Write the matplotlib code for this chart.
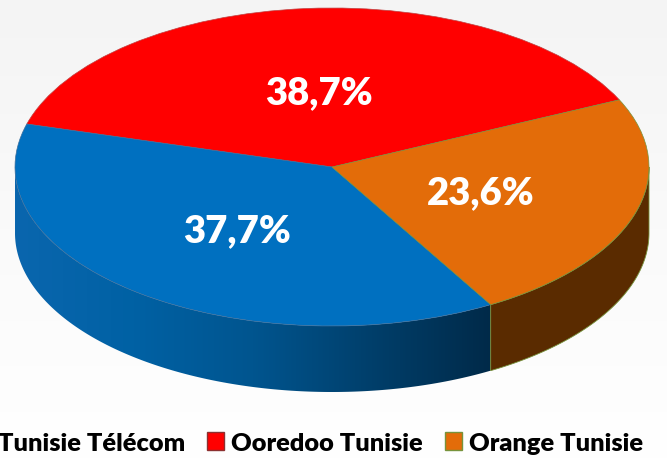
import numpy as np
import matplotlib
matplotlib.use("Agg")
import matplotlib.pyplot as plt
from matplotlib.colors import LinearSegmentedColormap
from matplotlib.patches import Patch, Polygon

operators = ["Tunisie Télécom", "Ooredoo Tunisie", "Orange Tunisie"]
shares = [37.7, 38.7, 23.6]
colors = ["#0070c0", "#ff0000", "#e36c09"]
edge_colors = ["#3c6e9c", "#c04040", "#77933c"]
legend_edges = ["#2a5a8c", "#8c3030", "#77933c"]
label_x = [-0.30, -0.04, 0.47]
label_y = [-0.40, 0.47, -0.157]

# ellipse of the top face in pixels
cx, cy, rx, ry = 332, 168, 317, 159
depth = 66 / ry
red_start = 25.0

plt.rcParams["font.family"] = ["Lato", "DejaVu Sans"]
plt.rcParams["font.weight"] = 800

fig = plt.figure(figsize=(6.67, 4.60), dpi=100)
ax = fig.add_axes([0, 0, 1, 1])
ax.axis("off")
xlim = (-cx / rx, (667 - cx) / rx)
ylim = ((cy - 460) / ry, cy / ry)

# faint grey backdrop, fading out to the bottom
bg = LinearSegmentedColormap.from_list("bg", ["#f4f4f4", "#fafafa", "#ffffff"])
ax.imshow(np.linspace(0, 1, 256).reshape(-1, 1), cmap=bg, aspect="auto",
          extent=(xlim[0], xlim[1], ylim[0], ylim[1]), origin="upper", zorder=0)

# pie order is red, blue, orange counter clockwise from red_start
order = [1, 0, 2]
wedges, _ = ax.pie([shares[i] for i in order], colors=[colors[i] for i in order],
                   startangle=red_start, radius=1, center=(0, 0),
                   wedgeprops={"linewidth": 0.5})
for w, i in zip(wedges, order):
    w.set_zorder(3)
    w.set_edgecolor(edge_colors[i])
ax.set_aspect("auto")

# side wall, blue part has a dark gradient, orange part is flat
split = red_start + 360 * (shares[1] + shares[0]) / 100


def wall(a0, a1):
    t = np.radians(np.linspace(a0, a1, 200))
    x, y = np.cos(t), np.sin(t)
    return np.vstack([np.c_[x, y], np.c_[x[::-1], y[::-1] - depth]])


blue_wall = Polygon(wall(180, split), closed=True, fc="none", ec="none", zorder=2)
ax.add_patch(blue_wall)
side = LinearSegmentedColormap.from_list(
    "side", ["#0a66ae", "#0061a4", "#00558f", "#013f6b", "#002a49"])
x_end = np.cos(np.radians(split))
im = ax.imshow(np.linspace(0, 1, 256).reshape(1, -1), cmap=side, aspect="auto",
               extent=(-1, x_end, -1 - depth, 0), zorder=2)
im.set_clip_path(blue_wall)

ax.add_patch(Polygon(wall(split, 360), closed=True, fc="#5a2b00", ec="#77933c",
                     lw=0.6, zorder=2))

for x, y, s in zip(label_x, label_y, shares):
    ax.text(x, y, f"{s:.1f}%".replace(".", ","), color="white", fontsize=27.5,
            ha="center", va="center", zorder=5)

handles = [Patch(fc=c, ec=e, lw=1) for c, e in zip(colors, legend_edges)]
leg = ax.legend(handles, operators, ncol=3, frameon=False, fontsize=18.3,
                loc="center right", bbox_to_anchor=(643 / 667, 1 - 444 / 460),
                bbox_transform=fig.transFigure, handlelength=0.67, handleheight=0.67,
                handletextpad=0.28, columnspacing=0.85, borderpad=0, borderaxespad=0,
                labelcolor="black")

ax.set_xlim(xlim)
ax.set_ylim(ylim)
fig.savefig("out.png", dpi=100)
